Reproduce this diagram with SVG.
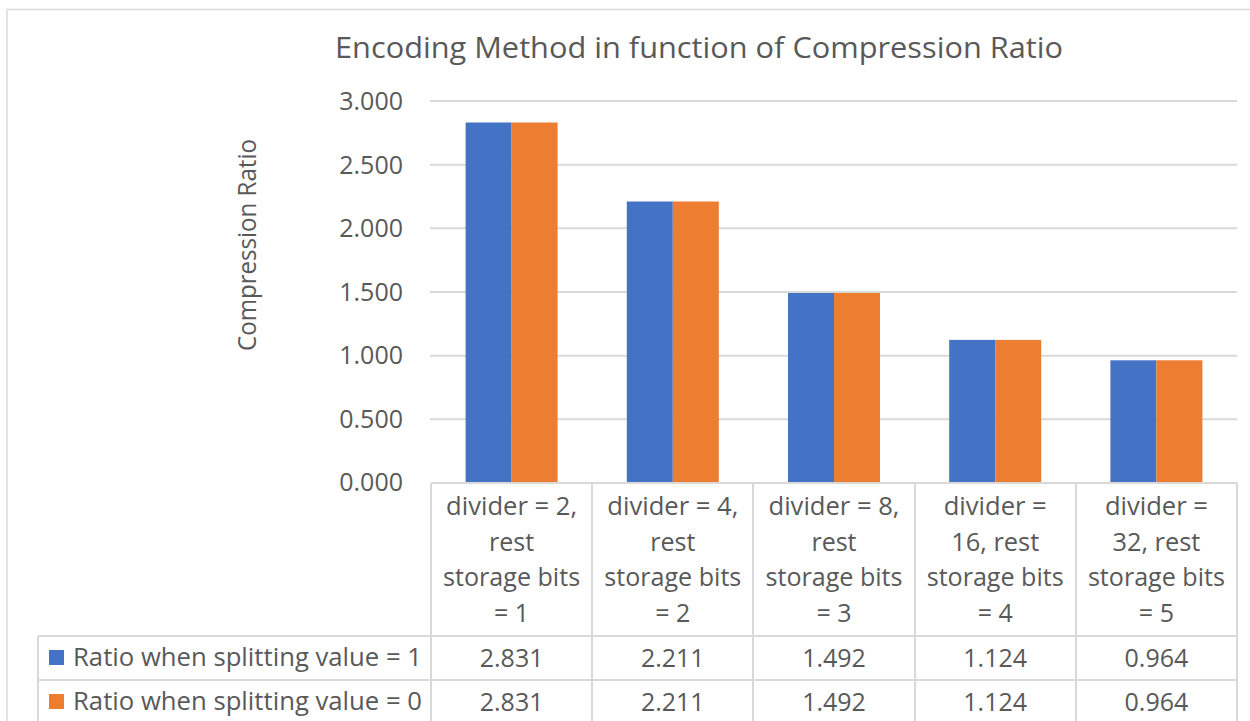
<svg xmlns="http://www.w3.org/2000/svg" width="1250" height="721" viewBox="0 0 1250 721">
<style>
text{font-family:"Open Sans","Noto Sans","Liberation Sans",sans-serif;fill:#595959}
.t{font-size:25px}
.c{text-anchor:middle}
.r{text-anchor:end}
.grid{stroke:#d9d9d9;stroke-width:2;fill:none}
.tbl{stroke:#d9d9d9;stroke-width:2;fill:none}
.b{fill:#4472c4}
.o{fill:#ed7d31}
</style>
<rect width="1250" height="721" fill="#fff"/>
<path d="M7,721 V9.5 H1250" fill="none" stroke="#d9d9d9" stroke-width="1.5"/>
<text id="title" x="699" y="58" class="c" font-size="29" textLength="728" lengthAdjust="spacingAndGlyphs">Encoding Method in function of Compression Ratio</text>
<text id="ytitle" transform="translate(256,245) rotate(-90)" class="t c" textLength="212" lengthAdjust="spacingAndGlyphs">Compression Ratio</text>
<g id="gridlines">
<path class="grid" d="M430,101H1237M430,164.7H1237M430,228.3H1237M430,292H1237M430,355.7H1237M430,419.3H1237"/>
</g>
<g id="yaxis" class="t r">
<text x="403" y="110">3.000</text>
<text x="403" y="173.5">2.500</text>
<text x="403" y="237">2.000</text>
<text x="403" y="300.5">1.500</text>
<text x="403" y="364">1.000</text>
<text x="403" y="427.5">0.500</text>
<text x="403" y="491">0.000</text>
</g>
<g id="bars">
<rect class="b" x="465.6" y="122.5" width="46" height="360.5"/>
<rect class="o" x="511.6" y="122.5" width="46" height="360.5"/>
<rect class="b" x="626.8" y="201.5" width="46" height="281.5"/>
<rect class="o" x="672.8" y="201.5" width="46" height="281.5"/>
<rect class="b" x="788" y="293" width="46" height="190"/>
<rect class="o" x="834" y="293" width="46" height="190"/>
<rect class="b" x="949.2" y="339.9" width="46" height="143.1"/>
<rect class="o" x="995.2" y="339.9" width="46" height="143.1"/>
<rect class="b" x="1110.4" y="360.3" width="46" height="122.7"/>
<rect class="o" x="1156.4" y="360.3" width="46" height="122.7"/>
</g>
<g id="table-lines">
<path class="tbl" d="M431,483H1237M38,636H1237M38,680H1237M431,483V721M592,483V721M753,483V721M915,483V721M1076,483V721M1237,483V721M38,636V721"/>
</g>
<g id="categories" class="t c">
<text x="511.6" y="515" textLength="131" lengthAdjust="spacingAndGlyphs">divider = 2,</text>
<text x="511.6" y="550.5">rest</text>
<text x="511.6" y="586" textLength="137" lengthAdjust="spacingAndGlyphs">storage bits</text>
<text x="511.6" y="621.5">= 1</text>
<text x="672.8" y="515" textLength="131" lengthAdjust="spacingAndGlyphs">divider = 4,</text>
<text x="672.8" y="550.5">rest</text>
<text x="672.8" y="586" textLength="137" lengthAdjust="spacingAndGlyphs">storage bits</text>
<text x="672.8" y="621.5">= 2</text>
<text x="834" y="515" textLength="131" lengthAdjust="spacingAndGlyphs">divider = 8,</text>
<text x="834" y="550.5">rest</text>
<text x="834" y="586" textLength="137" lengthAdjust="spacingAndGlyphs">storage bits</text>
<text x="834" y="621.5">= 3</text>
<text x="995.2" y="515" textLength="103" lengthAdjust="spacingAndGlyphs">divider =</text>
<text x="995.2" y="550.5" textLength="88" lengthAdjust="spacingAndGlyphs">16, rest</text>
<text x="995.2" y="586" textLength="137" lengthAdjust="spacingAndGlyphs">storage bits</text>
<text x="995.2" y="621.5">= 4</text>
<text x="1156.4" y="515" textLength="103" lengthAdjust="spacingAndGlyphs">divider =</text>
<text x="1156.4" y="550.5" textLength="88" lengthAdjust="spacingAndGlyphs">32, rest</text>
<text x="1156.4" y="586" textLength="137" lengthAdjust="spacingAndGlyphs">storage bits</text>
<text x="1156.4" y="621.5">= 5</text>
</g>
<g id="legend-series1">
<rect class="b" x="49" y="650" width="15" height="15"/>
<text x="73" y="666" class="t" textLength="349" lengthAdjust="spacingAndGlyphs">Ratio when splitting value = 1</text>
</g>
<g id="legend-series2">
<rect class="o" x="49" y="694" width="15" height="15"/>
<text x="73" y="710" class="t" textLength="349" lengthAdjust="spacingAndGlyphs">Ratio when splitting value = 0</text>
</g>
<g id="values" class="t c">
<text x="511.6" y="667">2.831</text>
<text x="672.8" y="667">2.211</text>
<text x="834" y="667">1.492</text>
<text x="995.2" y="667">1.124</text>
<text x="1156.4" y="667">0.964</text>
<text x="511.6" y="711">2.831</text>
<text x="672.8" y="711">2.211</text>
<text x="834" y="711">1.492</text>
<text x="995.2" y="711">1.124</text>
<text x="1156.4" y="711">0.964</text>
</g>
</svg>
